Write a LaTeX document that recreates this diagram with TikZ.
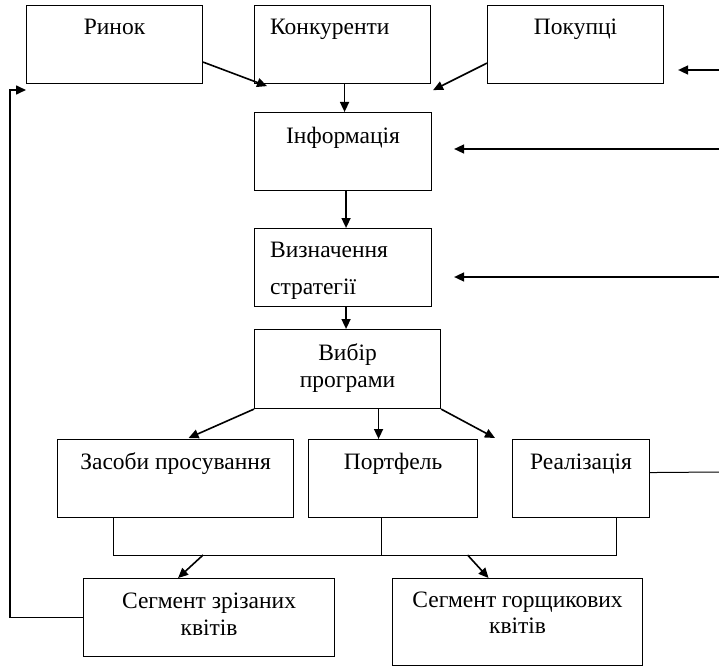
\documentclass[tikz,border=0pt]{standalone}
\usepackage{fontspec}
\setmainfont{Liberation Serif}
\usetikzlibrary{arrows.meta}
\tikzset{
  box/.style={draw, line width=1.1pt, inner sep=0pt, anchor=north west},
  arr/.style={line width=1.6pt, -{Triangle[length=10pt,width=9pt]}},
  ln/.style={line width=1pt},
  lbl/.style={anchor=base, inner sep=0pt, font=\fontsize{23.5}{26}\selectfont},
  lbll/.style={anchor=base west, inner sep=0pt, font=\fontsize{23.5}{26}\selectfont},
}
\begin{document}
\begin{tikzpicture}[x=1pt,y=-1pt]
\useasboundingbox (0,0) rectangle (719,666);
% boxes
\node[box, minimum width=176pt, minimum height=78pt,
  label={[lbl,yshift=-30pt]north:Ринок}] (rynok) at (26,5) {};
\node[box, minimum width=176pt, minimum height=78pt,
  label={[lbll,xshift=16pt,yshift=-30pt]north west:Конкуренти}] (konk) at (254,5) {};
\node[box, minimum width=176pt, minimum height=78pt,
  label={[lbl,yshift=-30pt]north:Покупці}] (pokup) at (487,5) {};
\node[box, minimum width=177pt, minimum height=78pt,
  label={[lbl,yshift=-31pt]north:Інформація}] (info) at (254,112) {};
\node[box, minimum width=177pt, minimum height=78pt,
  label={[lbll,xshift=16pt,yshift=-29pt]north west:Визначення},
  label={[lbll,xshift=16pt,yshift=-66pt]north west:стратегії}] (vyzn) at (254,228) {};
\node[box, minimum width=186pt, minimum height=79pt,
  label={[lbl,yshift=-31pt]north:Вибір},
  label={[lbl,yshift=-58pt]north:програми}] (vybir) at (254,329) {};
\node[box, minimum width=236pt, minimum height=78pt,
  label={[lbl,yshift=-30pt]north:Засоби просування}] (zasoby) at (57,439) {};
\node[box, minimum width=169pt, minimum height=78pt,
  label={[lbl,yshift=-30pt]north:Портфель}] (portfel) at (308,439) {};
\node[box, minimum width=137pt, minimum height=78pt,
  label={[lbl,yshift=-30pt]north:Реалізація}] (realiz) at (512,439) {};
\node[box, minimum width=251pt, minimum height=78pt,
  label={[lbl,yshift=-30pt]north:Сегмент зрізаних},
  label={[lbl,yshift=-57pt]north:квітів}] (seg1) at (83,578) {};
\node[box, minimum width=250pt, minimum height=87pt,
  label={[lbl,yshift=-29pt]north:Сегмент горщикових},
  label={[lbl,yshift=-55pt]north:квітів}] (seg2) at (392,578) {};
% free ends at the right edge
\coordinate (r1) at (719,70);
\coordinate (r2) at (719,149);
\coordinate (r3) at (719,277);
\coordinate (r4) at (719,472);
\coordinate (bus) at (0,555);
\coordinate (lft) at (10,90);
% top row into Information
\draw[arr] ([yshift=22pt]rynok.south east) -- ([xshift=13pt,yshift=-2pt]konk.south west);
\draw[arr] ([yshift=21pt]pokup.south west) -- ([xshift=2pt,yshift=-6pt]konk.south east);
\draw[arr] (r1) -- ([xshift=14pt]pokup.east |- r1);
\draw[arr] ([xshift=2pt]konk.south) -- ([xshift=2pt]konk.south |- info.north);
\draw[arr] (r2) -- ([xshift=22pt]info.east |- r2);
\draw[arr] ([xshift=3pt]info.south) -- ([xshift=3pt]info.south |- vyzn.north);
\draw[arr] (r3) -- ([xshift=22pt]vyzn.east |- r3);
\draw[arr] ([xshift=3pt]vyzn.south) -- ([xshift=3pt]vyzn.south |- vybir.north);
% from program choice
\draw[arr] (vybir.south west) -- ([xshift=13pt,yshift=1pt]zasoby.north);
\draw[arr] ([xshift=31pt]vybir.south) -- ([xshift=31pt]vybir.south |- portfel.north);
\draw[arr] (vybir.south east) -- ([xshift=-17pt,yshift=1pt]realiz.north west);
% bus
\coordinate (zs) at ([xshift=-62pt]zasoby.south);
\coordinate (ps) at ([xshift=-11.5pt]portfel.south);
\coordinate (rs) at ([xshift=35.5pt]realiz.south);
\draw[ln] (zs) -- (zs |- bus) -- (rs |- bus) -- (rs);
\draw[ln] (ps) -- (ps |- bus);
\draw[ln] ([yshift=6pt]realiz.east) -- (r4);
\draw[arr] ([xshift=-6pt]seg1.north |- bus) -- ([xshift=-31pt]seg1.north);
\draw[arr] ([xshift=-50pt]seg2.north |- bus) -- ([xshift=-29pt]seg2.north);
% feedback
\draw[arr] (seg1.west) -| (lft) -- (rynok.west |- lft);
\end{tikzpicture}
\end{document}
